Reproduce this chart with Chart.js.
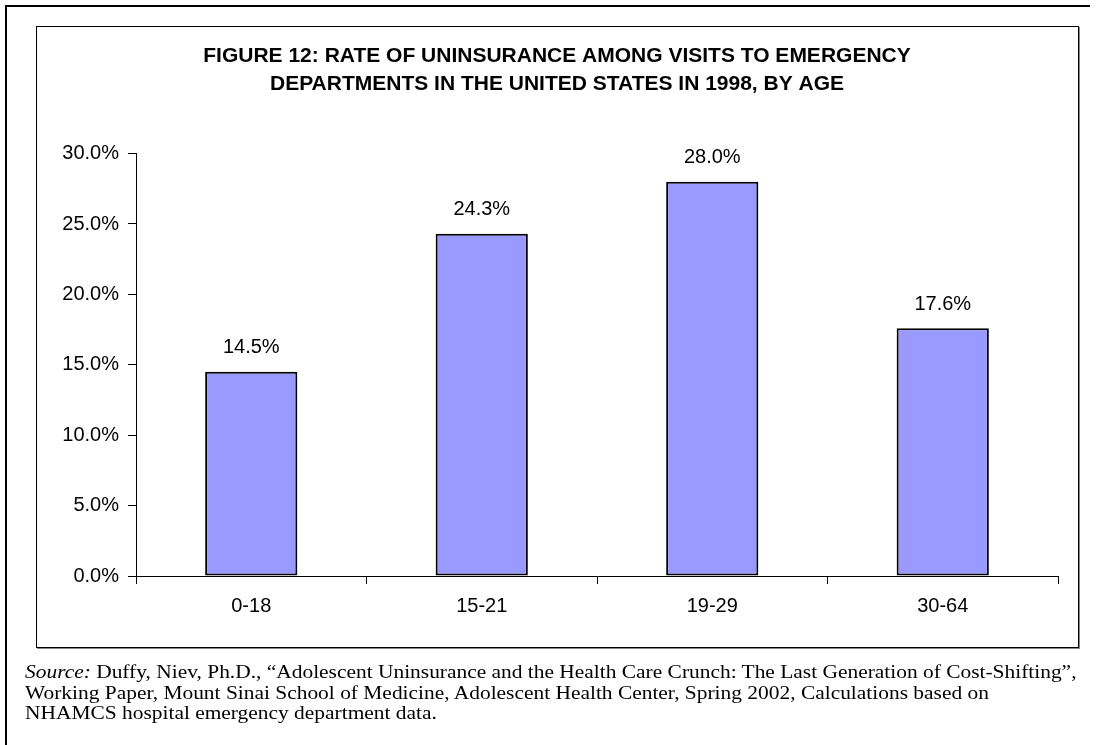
<!DOCTYPE html>
<html>
<head>
<meta charset="utf-8">
<script src="https://cdn.jsdelivr.net/npm/chart.js@4.4.1/dist/chart.umd.min.js"></script>
<style>
  html, body { margin: 0; padding: 0; background: #fff; }
  #page { position: relative; width: 1099px; height: 745px; overflow: hidden; }
  #outer { position: absolute; left: 5px; top: 5px; width: 1083px; height: 760px;
           border-top: 2px solid #000; border-left: 2px solid #000; }
  #box { position: absolute; left: 36px; top: 26px; width: 1041px; height: 620px;
         border: 1px solid #000; box-shadow: 1px 1px 0 #888; }
  #myChartBar { position: absolute; left: 0; top: 0; }
  #source { position: absolute; left: 25px; top: 662px; font-family: "Liberation Serif", "Times New Roman", serif;
            font-size: 18px; line-height: 20.5px; color: #000; white-space: nowrap;
            transform: scaleX(1.19); transform-origin: 0 0; }
</style>
</head>
<body>
<div id="page">
  <div id="outer"></div>
  <div id="box"></div>
  <canvas id="myChartBar" width="1099" height="745"></canvas>
  <div id="source">
    <i>Source:</i> Duffy, Niev, Ph.D., “Adolescent Uninsurance and the Health Care Crunch: The Last Generation of Cost-Shifting”,<br>
    Working Paper, Mount Sinai School of Medicine, Adolescent Health Center, Spring 2002, Calculations based on<br>
    NHAMCS hospital emergency department data.
  </div>
</div>
<script>
let ageGroups = ['0-18', '15-21', '19-29', '30-64']
let uninsuredRate = [14.5, 24.3, 28.0, 17.6]
let titleLines = [
    'FIGURE 12: RATE OF UNINSURANCE AMONG VISITS TO EMERGENCY',
    'DEPARTMENTS IN THE UNITED STATES IN 1998, BY AGE'
]

// value labels above the bars
let barLabels = {
    id: 'barLabels',
    afterDatasetsDraw(chart) {
        let ctx = chart.ctx
        ctx.save()
        ctx.font = '20px "Liberation Sans", Arial, sans-serif'
        ctx.fillStyle = '#000'
        ctx.textAlign = 'center'
        ctx.textBaseline = 'middle'
        chart.getDatasetMeta(0).data.forEach((bar, i) => {
            ctx.fillText(uninsuredRate[i].toFixed(1) + '%', bar.x, bar.y - 24)
        })
        ctx.restore()
    }
}

let myChart = document.getElementById('myChartBar').getContext('2d')

let barChart = new Chart(myChart, {
    type: 'bar',
    data: {
        labels: ageGroups,
        datasets: [{
            label: 'Uninsured',
            data: uninsuredRate,
            backgroundColor: '#9999ff',
            borderColor: '#000',
            borderWidth: 2,
            borderSkipped: false,
            barPercentage: 0.4,
            categoryPercentage: 1
        }]
    },
    options: {
        responsive: false,
        animation: false,
        layout: { padding: { left: 56, right: 41, top: 0, bottom: 119 } },
        scales: {
            x: {
                grid: { drawOnChartArea: false, offset: true, tickLength: 8, color: '#000' },
                border: { color: '#000', width: 1 },
                ticks: { color: '#000', padding: 10, font: { family: '"Liberation Sans", Arial, sans-serif', size: 20 } },
                afterFit: s => { s.height = 50 }
            },
            y: {
                min: 0,
                max: 30,
                grid: { drawOnChartArea: false, tickLength: 8, color: '#000' },
                border: { color: '#000', width: 1 },
                ticks: {
                    stepSize: 5,
                    color: '#000',
                    padding: 9,
                    font: { family: '"Liberation Sans", Arial, sans-serif', size: 20 },
                    callback: v => v.toFixed(1) + '%'
                },
                afterFit: s => { s.width = 80 }
            }
        },
        plugins: {
            legend: { display: false },
            tooltip: { enabled: false },
            title: {
                display: true,
                text: titleLines,
                color: '#000',
                font: { family: '"Liberation Sans", Arial, sans-serif', size: 21, weight: 'bold', lineHeight: 1.3 },
                padding: { top: 43, bottom: 56 }
            }
        }
    },
    plugins: [barLabels]
})
</script>
</body>
</html>
